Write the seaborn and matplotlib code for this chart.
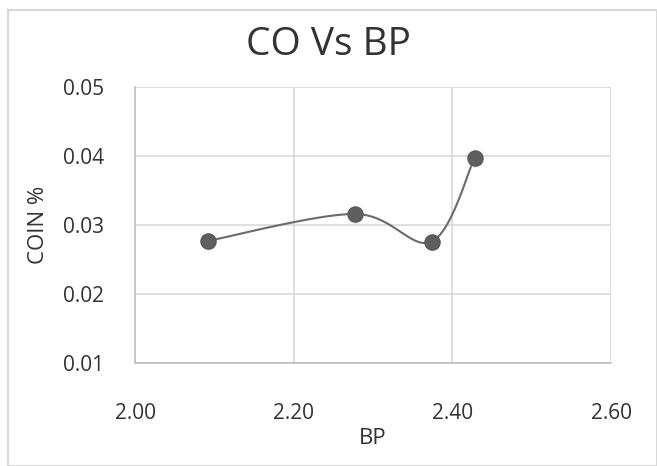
import numpy as np
import matplotlib
matplotlib.use("Agg")
import matplotlib.pyplot as plt
import seaborn as sns
import pandas as pd

bp = [2.092, 2.277, 2.374, 2.428]
coin = [0.0277, 0.0316, 0.0276, 0.0397]
x_ticks = [2.00, 2.20, 2.40, 2.60]
y_ticks = [0.01, 0.02, 0.03, 0.04, 0.05]
title = "CO Vs BP"
xlabel = "BP"
ylabel = "COIN %"

sns.set_theme(style="white")
plt.rcParams['font.family'] = ['Open Sans', 'DejaVu Sans']

fig = plt.figure(figsize=(6.57, 4.66), dpi=100)
ax = fig.add_axes([135/657, 1-363/466, (611-135)/657, (363-87)/466])

# Excel-style smoothing (Bezier with Catmull-Rom control points) in normalized space
xr = (x_ticks[0], x_ticks[-1]); yr = (y_ticks[0], y_ticks[-1])
P = np.column_stack([(np.array(bp)-xr[0])/(xr[1]-xr[0])*476, (np.array(coin)-yr[0])/(yr[1]-yr[0])*276])
n = len(P)
curve = []
t = np.linspace(0, 1, 40)[:, None]
for i in range(n-1):
    p0 = P[max(i-1, 0)]; p1 = P[i]; p2 = P[i+1]; p3 = P[min(i+2, n-1)]
    c1 = p1 + (p2 - p0)/6
    c2 = p2 - (p3 - p1)/6
    seg = (1-t)**3*p1 + 3*(1-t)**2*t*c1 + 3*(1-t)*t**2*c2 + t**3*p2
    curve.append(seg)
curve = np.vstack(curve)
cx = curve[:, 0]/476*(xr[1]-xr[0]) + xr[0]
cy = curve[:, 1]/276*(yr[1]-yr[0]) + yr[0]

sns.lineplot(x=cx, y=cy, ax=ax, color="#6b6b6b", linewidth=1.5, sort=False, zorder=2)
df = pd.DataFrame({"BP": bp, "COIN": coin})
# shadow
sns.scatterplot(data=df, x="BP", y="COIN", ax=ax, s=120, color="#bbbbbb", edgecolor="none",
                alpha=0.5, zorder=2.5, transform=ax.transData + matplotlib.transforms.ScaledTranslation(1/100, -2/100, fig.dpi_scale_trans))
sns.scatterplot(data=df, x="BP", y="COIN", ax=ax, s=120, color="#5f5f5f", edgecolor="#555555", zorder=3)

ax.set_xlim(xr); ax.set_ylim(yr)
ax.set_xticks(x_ticks); ax.set_xticklabels([f"{v:.2f}" for v in x_ticks])
ax.set_yticks(y_ticks); ax.set_yticklabels([f"{v:.2f}" for v in y_ticks])
ax.grid(True, color="#d9d9d9", linewidth=1.2)
ax.set_axisbelow(True)
for s in ["top", "right"]:
    ax.spines[s].set_visible(False)
ax.spines["left"].set_color("#bfbfbf")
ax.spines["bottom"].set_color("#bfbfbf")
ax.spines["left"].set_linewidth(1.2)
ax.spines["bottom"].set_linewidth(1.2)
ax.tick_params(axis="both", length=0, labelsize=15, colors="#333333")
ax.tick_params(axis="x", pad=29)
ax.tick_params(axis="y", pad=22)
ax.set_xlabel(xlabel, fontsize=16, color="#333333", labelpad=3)
ax.set_ylabel(ylabel, fontsize=16, color="#333333", labelpad=10)
fig.text(0.5, 1-45/466, title, ha="center", va="center", fontsize=28, color="#333333")

# outer border
fig.patches.append(plt.Rectangle((8/657, 0.0), 1-8/657, 1-10/466, transform=fig.transFigure,
                                 fill=False, edgecolor="#d9d9d9", linewidth=1.5))

fig.savefig("out.png", dpi=100)
